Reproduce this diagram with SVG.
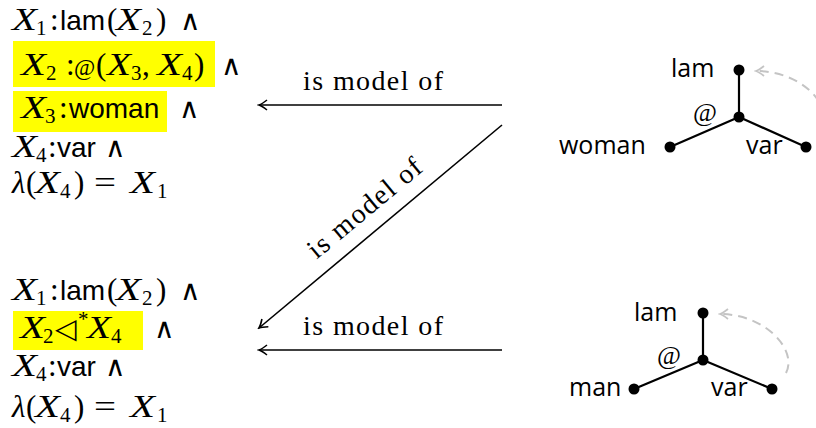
<svg xmlns="http://www.w3.org/2000/svg" width="816" height="428" viewBox="0 0 816 428">
<style>
.mi{font-family:"Liberation Serif",serif;font-style:italic;font-size:31px;fill:#000}
.rm{font-family:"Liberation Serif",serif;font-style:normal;font-size:31px}
.sf{font-family:"Liberation Sans",sans-serif;font-style:normal;font-size:28px}
.sub{font-family:"Liberation Serif",serif;font-size:21px;font-style:normal}
.sym{font-family:"DejaVu Sans",sans-serif;font-size:28px;font-style:normal;font-weight:200}
.lbl{font-family:"Liberation Serif",serif;font-size:28px;fill:#000}
.tl{font-family:"Open Sans",sans-serif;font-size:25px;fill:#000}
.at{font-family:"Liberation Serif",serif;font-style:normal;font-size:26px;fill:#000}
.atf{font-family:"Liberation Serif",serif;font-style:normal;font-size:23px}
.hl{fill:#ffff00}
.edge{stroke:#000;stroke-width:2.2;fill:none}
.dot{fill:#000}
.arr{stroke:#000;stroke-width:1.6;fill:none;marker-end:url(#ah)}
.dash{stroke:#c4c4c4;stroke-width:2;fill:none;stroke-dasharray:9 6;marker-end:url(#ahg)}
</style>
<defs>
<marker id="ah" viewBox="-10 -7 12 14" refX="0" refY="0" markerWidth="12" markerHeight="14" markerUnits="userSpaceOnUse" orient="auto">
<path d="M -8 -5 Q -3 -1 0 0 Q -3 1 -8 5" fill="none" stroke="#000" stroke-width="1.6"/>
</marker>
<marker id="ahg" viewBox="-10 -7 12 14" refX="0" refY="0" markerWidth="12" markerHeight="14" markerUnits="userSpaceOnUse" orient="auto">
<path d="M -8 -5 Q -3 -1 0 0 Q -3 1 -8 5" fill="none" stroke="#c4c4c4" stroke-width="1.8"/>
</marker>
</defs>

<g id="formula-top">
<rect class="hl" x="13" y="41" width="202" height="46"/>
<rect class="hl" x="13" y="91" width="154" height="41"/>
<text class="mi" y="30"><tspan x="12" textLength="25" lengthAdjust="spacingAndGlyphs">X</tspan><tspan class="sub" x="36" y="35">1</tspan><tspan class="rm" x="50" y="30">:</tspan><tspan class="sf" x="60">lam</tspan><tspan class="rm" x="107">(</tspan><tspan x="116" textLength="25" lengthAdjust="spacingAndGlyphs">X</tspan><tspan class="sub" x="142" y="35">2</tspan><tspan class="rm" x="156" y="30">)</tspan><tspan class="sym" x="180">∧</tspan></text>
<text class="mi" y="75"><tspan x="21" textLength="25" lengthAdjust="spacingAndGlyphs">X</tspan><tspan class="sub" x="46" y="80">2</tspan><tspan class="rm" x="66" y="75">:</tspan><tspan class="atf" x="74">@</tspan><tspan class="rm" x="96">(</tspan><tspan x="107" textLength="24" lengthAdjust="spacingAndGlyphs">X</tspan><tspan class="sub" x="131" y="80">3</tspan><tspan class="rm" x="142" y="75">,</tspan><tspan x="157" textLength="25" lengthAdjust="spacingAndGlyphs">X</tspan><tspan class="sub" x="182" y="80">4</tspan><tspan class="rm" x="194" y="75">)</tspan><tspan class="sym" x="221">∧</tspan></text>
<text class="mi" y="118"><tspan x="21" textLength="25" lengthAdjust="spacingAndGlyphs">X</tspan><tspan class="sub" x="45" y="123">3</tspan><tspan class="rm" x="59" y="118">:</tspan><tspan class="sf" x="69">woman</tspan><tspan class="sym" x="179">∧</tspan></text>
<text class="mi" y="157"><tspan x="12" textLength="25" lengthAdjust="spacingAndGlyphs">X</tspan><tspan class="sub" x="36" y="162">4</tspan><tspan class="rm" x="48" y="157">:</tspan><tspan class="sf" x="57">var</tspan><tspan class="sym" x="105">∧</tspan></text>
<text class="mi" y="193"><tspan x="12">λ</tspan><tspan class="rm" x="26">(</tspan><tspan x="35" textLength="25" lengthAdjust="spacingAndGlyphs">X</tspan><tspan class="sub" x="60" y="198">4</tspan><tspan class="rm" x="74" y="193">)</tspan><tspan class="rm" x="94" textLength="22" lengthAdjust="spacingAndGlyphs">=</tspan><tspan x="130" textLength="25" lengthAdjust="spacingAndGlyphs">X</tspan><tspan class="sub" x="157" y="198">1</tspan></text>
</g>

<g id="formula-bottom">
<rect class="hl" x="13" y="311" width="130" height="39"/>
<text class="mi" y="300"><tspan x="12" textLength="25" lengthAdjust="spacingAndGlyphs">X</tspan><tspan class="sub" x="36" y="305">1</tspan><tspan class="rm" x="50" y="300">:</tspan><tspan class="sf" x="60">lam</tspan><tspan class="rm" x="107">(</tspan><tspan x="116" textLength="25" lengthAdjust="spacingAndGlyphs">X</tspan><tspan class="sub" x="142" y="305">2</tspan><tspan class="rm" x="156" y="300">)</tspan><tspan class="sym" x="180">∧</tspan></text>
<text class="mi" y="338"><tspan x="20" textLength="25" lengthAdjust="spacingAndGlyphs">X</tspan><tspan class="sub" x="43" y="343">2</tspan><tspan class="sym" x="55" y="338">◁</tspan><tspan class="sub" x="78" y="326">*</tspan><tspan x="87" y="338" textLength="24" lengthAdjust="spacingAndGlyphs">X</tspan><tspan class="sub" x="111" y="343">4</tspan><tspan class="sym" x="154" y="338">∧</tspan></text>
<text class="mi" y="376"><tspan x="12" textLength="25" lengthAdjust="spacingAndGlyphs">X</tspan><tspan class="sub" x="36" y="381">4</tspan><tspan class="rm" x="48" y="376">:</tspan><tspan class="sf" x="57">var</tspan><tspan class="sym" x="105">∧</tspan></text>
<text class="mi" y="417"><tspan x="12">λ</tspan><tspan class="rm" x="26">(</tspan><tspan x="35" textLength="25" lengthAdjust="spacingAndGlyphs">X</tspan><tspan class="sub" x="60" y="422">4</tspan><tspan class="rm" x="74" y="417">)</tspan><tspan class="rm" x="94" textLength="22" lengthAdjust="spacingAndGlyphs">=</tspan><tspan x="130" textLength="25" lengthAdjust="spacingAndGlyphs">X</tspan><tspan class="sub" x="157" y="422">1</tspan></text>
</g>

<g id="tree-top">
<path class="edge" d="M739 70 L739 117 M739 117 L670 147 M739 117 L806 147"/>
<circle class="dot" cx="739" cy="70" r="5.5"/>
<circle class="dot" cx="739" cy="117" r="5.5"/>
<circle class="dot" cx="670" cy="147" r="5.5"/>
<circle class="dot" cx="806" cy="147" r="5.5"/>
<text class="tl" x="671" y="77">lam</text>
<text class="at" x="693" y="121">@</text>
<text class="tl" x="559" y="154">woman</text>
<text class="tl" x="746" y="154">var</text>
</g>

<g id="tree-bottom">
<path class="edge" d="M703 313 L703 360 M703 360 L634 389 M703 360 L772 389"/>
<circle class="dot" cx="703" cy="313" r="5.5"/>
<circle class="dot" cx="703" cy="360" r="5.5"/>
<circle class="dot" cx="634" cy="389" r="5.5"/>
<circle class="dot" cx="772" cy="389" r="5.5"/>
<text class="tl" x="634" y="321">lam</text>
<text class="at" x="657" y="364">@</text>
<text class="tl" x="569" y="396">man</text>
<text class="tl" x="711" y="396">var</text>
</g>

<g id="connectors">
<path class="arr" d="M502 105 L259 105"/>
<path class="arr" d="M502 125 L259 328"/>
<path class="arr" d="M502 350 L259 350"/>
<path class="dash" d="M822 130 C834 105 801 71 756 71"/>
<path class="dash" d="M786 373 C798 350 765 314 720 314"/>
<text class="lbl" x="373" y="90" text-anchor="middle" textLength="140">is model of</text>
<text class="lbl" x="373" y="335" text-anchor="middle" textLength="140">is model of</text>
<text class="lbl" text-anchor="middle" textLength="140" transform="translate(370.4,215) rotate(-39.76)">is model of</text>
</g>
</svg>
